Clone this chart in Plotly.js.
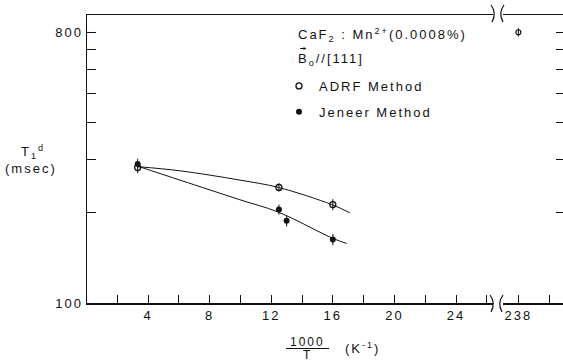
<!DOCTYPE html>
<html>
<head>
<meta charset="utf-8">
<script src="https://cdn.plot.ly/plotly-3.0.1.min.js"></script>
<style>
html, body { margin: 0; padding: 0; background: #fff; }
#chart { width: 563px; height: 362px; }
svg text { letter-spacing: 2px; }
</style>
</head>
<body>
<div id="chart"></div>
<script>
// ---- data ----
const adrfX = [3.33, 12.5, 16.0];
const adrfY = [283, 243, 213];
const adrfErr = [12, 8, 9];

const jeneerX = [3.33, 12.5, 13.0, 16.0];
const jeneerY = [291, 205, 188, 163];
const jeneerErr = [12, 8, 8, 7];

const lowTX = [238];
const lowTY = [800];
const lowTErr = [25];

const adrfCurveX = [3.33, 6.08, 9.97, 12.46, 15.93, 17.1];
const adrfCurveY = [285, 276, 257, 243, 213, 200];
const jeneerCurveX = [3.33, 6.08, 9.97, 12.46, 16.03, 16.9];
const jeneerCurveY = [286, 257, 221, 201, 164, 158];

const xTickVals = [4, 8, 12, 16, 20, 24];
const xMinorVals = [2, 6, 10, 14, 18, 22, 26];
const x2TickVals = [238];
const x2MinorVals = [240];
const yTickVals = [100, 800];
const yMinorVals = [200, 300, 400, 500, 600, 700];

const legendNames = ['ADRF Method', 'Jeneer Method'];

// ---- drawing ----
const FONT = {family: 'Liberation Sans, Arial, sans-serif', size: 13, color: '#111'};
const SMALL = {family: 'Liberation Sans, Arial, sans-serif', size: 12, color: '#111'};
const BLACK = '#111';

const traces = [
  {x: adrfCurveX, y: adrfCurveY, xaxis: 'x', yaxis: 'y', mode: 'lines',
   line: {color: BLACK, width: 1, shape: 'spline'}, showlegend: false, hoverinfo: 'skip'},
  {x: jeneerCurveX, y: jeneerCurveY, xaxis: 'x', yaxis: 'y', mode: 'lines',
   line: {color: BLACK, width: 1, shape: 'spline'}, showlegend: false, hoverinfo: 'skip'},
  {x: adrfX, y: adrfY, xaxis: 'x', yaxis: 'y', mode: 'markers', name: legendNames[0],
   legendgroup: 'a', marker: {symbol: 'circle-open', size: 6, color: BLACK, line: {width: 1.3, color: BLACK}},
   error_y: {type: 'data', array: adrfErr, visible: true, color: BLACK, thickness: 1, width: 0}},
  {x: jeneerX, y: jeneerY, xaxis: 'x', yaxis: 'y', mode: 'markers', name: legendNames[1],
   legendgroup: 'b', marker: {symbol: 'circle', size: 6, color: BLACK},
   error_y: {type: 'data', array: jeneerErr, visible: true, color: BLACK, thickness: 1, width: 0}},
  {x: lowTX, y: lowTY, xaxis: 'x2', yaxis: 'y2', mode: 'markers', name: legendNames[0],
   legendgroup: 'a', showlegend: false,
   marker: {symbol: 'circle-open', size: 5, color: BLACK, line: {width: 1.2, color: BLACK}},
   error_y: {type: 'data', array: lowTErr, visible: true, color: BLACK, thickness: 1, width: 0}}
];

const W = 563, H = 362, L = 87, R = 0, T = 15, B = 59;
const PW = W - L - R, PH = H - T - B;
const px = v => (v - L) / PW;
const py = v => (H - B - v) / PH;

function arc(x1, yTop, xm, yMid, x2, yBot) {
  return 'M ' + px(x1) + ',' + py(yTop) + ' Q ' + px(xm) + ',' + py(yMid) + ' ' + px(x2) + ',' + py(yBot);
}

function axis(extra, len, minorVals) {
  return Object.assign({
    showgrid: false, zeroline: false, showline: true, linecolor: BLACK, linewidth: 1.5,
    ticks: 'inside', ticklen: len, tickcolor: BLACK, tickwidth: 1, tickfont: FONT, tickmode: 'array',
    minor: {tickmode: 'array', tickvals: minorVals, ticks: 'inside', ticklen: len, tickcolor: BLACK, tickwidth: 1, showgrid: false}
  }, extra);
}

const layout = {
  width: W, height: H,
  margin: {l: L, r: R, t: T, b: B},
  paper_bgcolor: '#fff', plot_bgcolor: '#fff',
  font: FONT,
  showlegend: true,
  legend: {x: px(279), y: py(71), xanchor: 'left', yanchor: 'top', bgcolor: 'rgba(0,0,0,0)',
           font: FONT, traceorder: 'grouped', tracegroupgap: 6},
  xaxis: axis({domain: [0, 0.853], range: [0.04, 26.4], anchor: 'y', mirror: true, tickvals: xTickVals}, 8, xMinorVals),
  xaxis2: axis({domain: [0.874, 1], range: [237.0, 240.9], anchor: 'y2', mirror: true, tickvals: x2TickVals}, 8, x2MinorVals),
  yaxis: axis({type: 'log', range: [2, 2.9607], anchor: 'x', side: 'left', tickvals: yTickVals}, 9, yMinorVals),
  yaxis2: axis({type: 'log', range: [2, 2.9607], anchor: 'x2', side: 'right', tickvals: yTickVals, showticklabels: false}, 7, yMinorVals),
  shapes: [
    {type: 'path', xref: 'paper', yref: 'paper', path: arc(491, 5, 497, 13, 492, 22), line: {color: BLACK, width: 1.2}},
    {type: 'path', xref: 'paper', yref: 'paper', path: arc(504, 5, 498, 13, 503, 22), line: {color: BLACK, width: 1.2}},
    {type: 'path', xref: 'paper', yref: 'paper', path: arc(490, 295, 496, 303, 491, 312), line: {color: BLACK, width: 1.2}},
    {type: 'path', xref: 'paper', yref: 'paper', path: arc(503, 295, 497, 303, 502, 312), line: {color: BLACK, width: 1.2}},
    {type: 'line', xref: 'paper', yref: 'paper', x0: px(286), x1: px(329), y0: py(348.5), y1: py(348.5), line: {color: BLACK, width: 1}}
  ],
  annotations: [
    {xref: 'paper', yref: 'paper', x: px(307), y: py(341.5), text: '1000', showarrow: false, font: SMALL, xanchor: 'center', yanchor: 'middle'},
    {xref: 'paper', yref: 'paper', x: px(307), y: py(354.5), text: 'T', showarrow: false, font: SMALL, xanchor: 'center', yanchor: 'middle'},
    {xref: 'paper', yref: 'paper', x: px(343), y: py(348), text: '(K<sup>-1</sup>)', showarrow: false, font: FONT, xanchor: 'left', yanchor: 'middle'},
    {xref: 'paper', yref: 'paper', x: px(33), y: py(152), text: 'T<sub>1</sub><sup>d</sup>', showarrow: false, font: FONT, xanchor: 'center', yanchor: 'middle'},
    {xref: 'paper', yref: 'paper', x: px(31), y: py(168), text: '(msec)', showarrow: false, font: FONT, xanchor: 'center', yanchor: 'middle'},
    {xref: 'paper', yref: 'paper', x: px(296), y: py(35), text: 'CaF<sub>2</sub> : Mn<sup>2+</sup>(0.0008%)', showarrow: false, font: FONT, xanchor: 'left', yanchor: 'middle'},
    {xref: 'paper', yref: 'paper', x: px(296), y: py(59), text: 'B<sub>o</sub>//[111]', showarrow: false, font: FONT, xanchor: 'left', yanchor: 'middle'},
    {xref: 'paper', yref: 'paper', x: px(306.5), y: py(48.5), text: '', showarrow: true, ax: -8, ay: 0,
     arrowhead: 2, arrowsize: 0.6, arrowwidth: 1, arrowcolor: BLACK, standoff: 0, startstandoff: 0}
  ]
};

Plotly.newPlot('chart', traces, layout, {staticPlot: true, displayModeBar: false});
</script>
</body>
</html>
